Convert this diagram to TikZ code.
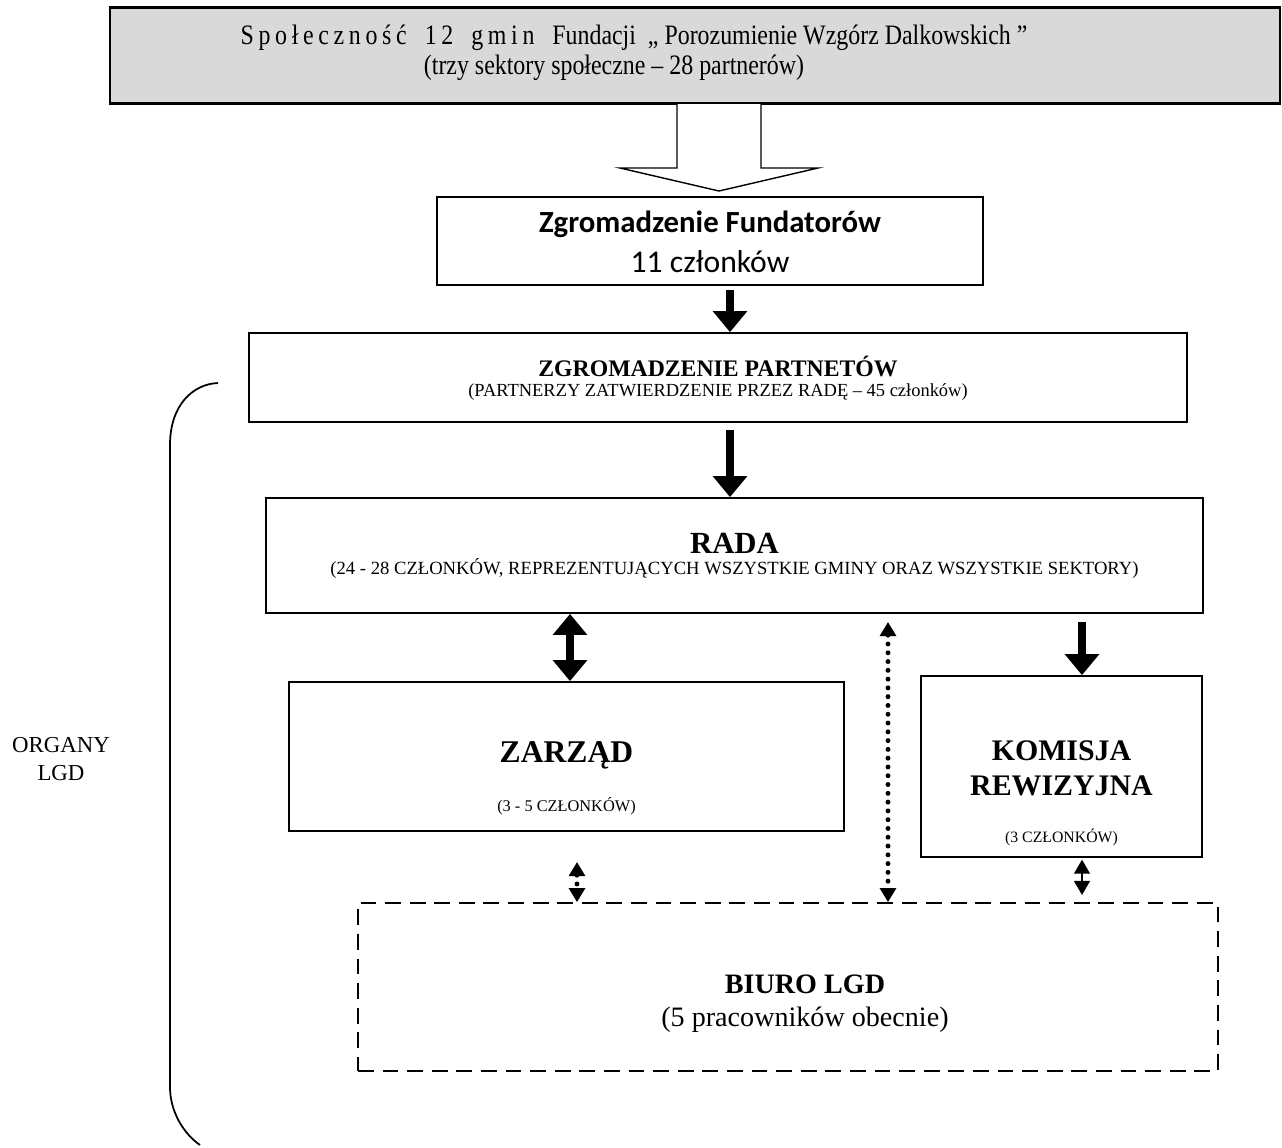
\documentclass[tikz,border=0pt]{standalone}
\usepackage{fontspec}
\setmainfont{Liberation Serif}
\newfontfamily\calibri{Carlito}
\newfontfamily\narrowserif[FakeStretch=0.85]{Liberation Serif}
\usetikzlibrary{arrows.meta}

\tikzset{
  box/.style={draw, line width=1pt, inner sep=0pt},
  bigarr/.style={line width=4pt, -{Triangle[width=19pt,length=12pt]}},
  bigdbl/.style={line width=4pt, {Triangle[width=19pt,length=12pt]}-{Triangle[width=19pt,length=12pt]}},
  dotarr/.style={line width=2.8pt, dash pattern=on 0pt off 5pt, line cap=round,
    {Triangle[width=9pt,length=8pt]}-{Triangle[width=9pt,length=8pt]}},
  smalldbl/.style={line width=1pt, {Triangle[width=9pt,length=8pt]}-{Triangle[width=9pt,length=8pt]}}
}

\begin{document}
\begin{tikzpicture}[x=0.02cm, y=-0.02cm]
            \useasboundingbox (0,0) rectangle (1282,1147);

            % spolecznosc
            \node[box, fill=gray!30, line width=1.3pt, minimum width=23.4cm, minimum height=1.92cm] (spol) at (695,55.5) {};
            \node[font=\narrowserif\fontsize{16}{19}\selectfont] (spolA) at (634,38) {S\,p\,o\,ł\,e\,c\,z\,n\,o\,ś\,ć \ \ 1\,2 \ \ g\,m\,i\,n \ \ Fundacji \ „ Porozumienie Wzgórz Dalkowskich ”};
            \node[font=\narrowserif\fontsize{16}{19}\selectfont] (spolB) at (614,68) {(trzy sektory społeczne – 28 partnerów)};

            % hollow arrow
            \draw[line width=0.8pt, fill=white] (677,104) -- (677,168) -- (620,168) -- (719,191) -- (818,168) -- (761,168) -- (761,104);

            \node[box, minimum width=10.92cm, minimum height=1.76cm] (fund) at (710,241) {};
            \node[font=\calibri\bfseries\fontsize{17.5}{20}\selectfont] (fundA) at (710,224) {Zgromadzenie Fundatorów};
            \node[font=\calibri\fontsize{18}{21}\selectfont] (fundB) at (710,262) {11 członków};

            \node[box, minimum width=18.76cm, minimum height=1.78cm] (part) at (718,377.5) {};
            \node[font=\bfseries\fontsize{13.5}{15}\selectfont] (partA) at (718,366) {ZGROMADZENIE PARTNETÓW};
            \node[font=\fontsize{10.5}{12}\selectfont] (partB) at (718,392) {(PARTNERZY ZATWIERDZENIE PRZEZ RADĘ – 45 członków)};

            \node[box, minimum width=18.74cm, minimum height=2.3cm] (rada) at (734.5,555.5) {};
            \node[font=\bfseries\fontsize{17.5}{20}\selectfont] (radaA) at (734.5,543) {RADA};
            \node[font=\fontsize{10.6}{12}\selectfont] (radaB) at (734.5,568) {(24 - 28 CZŁONKÓW, REPREZENTUJĄCYCH WSZYSTKIE GMINY ORAZ WSZYSTKIE SEKTORY)};

            \node[box, minimum width=11.1cm, minimum height=2.98cm] (zarz) at (566.5,756.5) {};
            \node[font=\bfseries\fontsize{18}{20}\selectfont] (zarzA) at (566.5,755) {ZARZĄD};
            \node[font=\fontsize{9.3}{11}\selectfont] (zarzB) at (566.5,806) {(3 - 5 CZŁONKÓW)};

            \node[box, minimum width=5.62cm, minimum height=3.62cm] (kom) at (1061.5,766.5) {};
            \node[font=\bfseries\fontsize{17}{20}\selectfont, align=center] (komA) at (1061.5,768) {KOMISJA\\REWIZYJNA};
            \node[font=\fontsize{9}{11}\selectfont] (komB) at (1061.5,837) {(3 CZŁONKÓW)};

            \node[box, dash pattern=on 9pt off 5pt, minimum width=17.2cm, minimum height=3.36cm] (biuro) at (788,987) {};
            \node[font=\bfseries\fontsize{16}{19}\selectfont] (biuroA) at (805,984) {BIURO LGD};
            \node[font=\fontsize{16}{19}\selectfont] (biuroB) at (805,1020) {(5 pracowników obecnie)};

            \node[font=\fontsize{13}{15.5}\selectfont, align=center] (organy) at (61,759) {ORGANY\\LGD};
            \draw[line width=1pt] (218,383) .. controls (193,384) and (170,405) .. (170,445) -- (170,1087) .. controls (170,1112) and (184,1134) .. (200,1145);

            % connectors
            \coordinate (a1) at (730,290);
            \coordinate (a2) at (730,430);
            \coordinate (a3) at (570,0);
            \coordinate (a4) at (888,622);
            \coordinate (a5) at (1082,622);
            \coordinate (a6) at (577,862);
            \coordinate (a7) at (1082,895);
            \draw[bigarr] (a1) -- (a1 |- part.north);
            \draw[bigarr] (a2) -- (a2 |- rada.north);
            \draw[bigdbl] (a3 |- rada.south) -- (a3 |- zarz.north);
            \draw[dotarr] (a4) -- (a4 |- biuro.north);
            \draw[bigarr] (a5) -- (a5 |- kom.north);
            \draw[dotarr] (a6) -- (a6 |- biuro.north);
            \draw[smalldbl] ([yshift=-1pt]a7 |- kom.south) -- (a7);
        \end{tikzpicture}
\end{document}
